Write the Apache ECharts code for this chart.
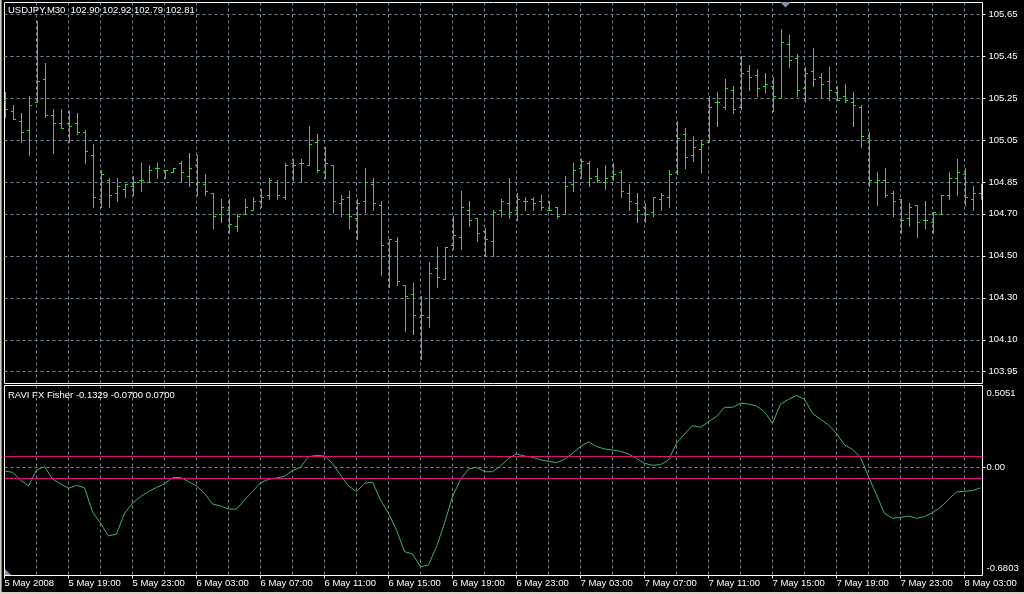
<!DOCTYPE html>
<html>
<head>
<meta charset="utf-8">
<script src="https://cdn.jsdelivr.net/npm/echarts@6/dist/echarts.min.js"></script>
<style>
html,body{margin:0;padding:0;background:#000;overflow:hidden;}
#c{width:1024px;height:594px;}
</style>
</head>
<body>
<div id="c"></div>
<script>
// ---------------- data ----------------
const symbolLabel = 'USDJPY,M30  102.90 102.92 102.79 102.81';
const indicatorLabel = 'RAVI FX Fisher -0.1329 -0.0700 0.0700';

// M30 bars from 5 May 2008 15:00 (index 0) to 8 May 2008 04:00 (index 122)
const open = [
  105.24,105.19,105.14,105.10,105.23,105.34,105.17,105.13,105.13,105.13,
  105.09,104.98,104.77,104.86,104.80,104.82,104.83,104.86,104.85,104.92,
  104.91,104.90,104.94,104.88,104.93,104.84,104.80,104.70,104.72,104.64,
  104.70,104.72,104.76,104.79,104.85,104.78,104.94,104.94,104.93,105.04,
  104.90,104.93,104.75,104.78,104.68,104.76,104.84,104.74,104.56,104.57,
  104.36,104.32,104.21,104.21,104.44,104.39,104.55,104.59,104.72,104.68,
  104.62,104.57,104.72,104.75,104.72,104.76,104.77,104.76,104.72,104.73,
  104.70,104.84,104.92,104.94,104.88,104.85,104.88,104.90,104.80,104.75,
  104.73,104.71,104.77,104.78,104.90,105.08,104.98,105.01,105.04,105.23,
  105.21,105.29,105.21,105.38,105.36,105.31,105.31,105.25,105.51,105.44,
  105.30,105.38,105.35,105.33,105.28,105.26,105.23,105.21,105.06,104.85,
  104.86,104.80,104.77,104.68,104.74,104.67,104.66,104.70,104.79,104.87,
  104.89,104.77,104.80
];
const high = [
  105.28,105.22,105.18,105.26,105.62,105.42,105.20,105.20,105.19,105.18,
  105.10,105.03,104.91,104.87,104.87,104.84,104.88,104.94,104.93,104.94,
  104.91,104.92,104.95,104.99,104.98,104.89,104.80,104.77,104.77,104.70,
  104.77,104.78,104.82,104.87,104.86,104.94,104.96,104.96,105.12,105.08,
  105.02,104.93,104.79,104.81,104.77,104.92,104.87,104.76,104.58,104.59,
  104.36,104.37,104.31,104.47,104.54,104.54,104.69,104.81,104.76,104.68,
  104.63,104.72,104.77,104.87,104.80,104.78,104.78,104.79,104.76,104.73,
  104.88,104.94,104.96,104.95,104.92,104.93,104.94,104.91,104.84,104.80,
  104.75,104.78,104.80,104.91,105.14,105.11,105.07,105.05,105.26,105.28,
  105.34,105.31,105.45,105.41,105.39,105.37,105.35,105.58,105.55,105.46,
  105.40,105.49,105.37,105.40,105.31,105.32,105.28,105.22,105.09,104.90,
  104.92,104.81,104.77,104.75,104.74,104.76,104.71,104.79,104.90,104.96,
  104.92,104.83,104.84
];
const low = [
  105.16,105.15,105.04,104.98,105.23,105.16,104.99,105.11,105.04,105.08,
  104.94,104.73,104.73,104.73,104.76,104.78,104.79,104.81,104.85,104.87,
  104.87,104.90,104.85,104.83,104.79,104.79,104.63,104.66,104.61,104.62,
  104.70,104.72,104.73,104.77,104.77,104.77,104.86,104.85,104.93,104.90,
  104.87,104.71,104.69,104.63,104.58,104.71,104.72,104.41,104.35,104.36,
  104.14,104.13,104.01,104.16,104.35,104.39,104.53,104.53,104.64,104.57,
  104.50,104.50,104.69,104.68,104.67,104.72,104.72,104.72,104.72,104.68,
  104.70,104.81,104.87,104.83,104.85,104.82,104.86,104.78,104.72,104.66,
  104.66,104.69,104.72,104.73,104.89,104.92,104.95,104.90,105.04,105.12,
  105.20,105.18,105.20,105.29,105.26,105.28,105.19,105.25,105.40,105.26,
  105.23,105.31,105.25,105.24,105.24,105.23,105.12,105.02,104.83,104.74,
  104.78,104.69,104.61,104.64,104.59,104.63,104.61,104.70,104.77,104.79,
  104.74,104.72,104.77
];
const close = [
  105.20,105.15,105.09,105.22,105.33,105.17,105.13,105.11,105.12,105.09,
  105.00,104.78,104.89,104.79,104.83,104.84,104.85,104.86,104.91,104.92,
  104.91,104.92,104.90,104.92,104.85,104.81,104.69,104.73,104.65,104.69,
  104.73,104.76,104.78,104.86,104.79,104.93,104.93,104.94,105.03,104.91,
  104.94,104.76,104.77,104.69,104.75,104.85,104.75,104.55,104.58,104.38,
  104.31,104.22,104.22,104.42,104.40,104.54,104.60,104.73,104.67,104.61,
  104.58,104.71,104.76,104.71,104.77,104.76,104.75,104.73,104.72,104.69,
  104.83,104.91,104.95,104.87,104.86,104.87,104.89,104.81,104.76,104.72,
  104.70,104.78,104.79,104.89,105.06,104.97,105.02,105.03,105.21,105.23,
  105.30,105.20,105.37,105.35,105.30,105.32,105.26,105.52,105.43,105.29,
  105.37,105.34,105.32,105.29,105.24,105.24,105.22,105.07,104.86,104.86,
  104.79,104.76,104.67,104.73,104.66,104.67,104.71,104.79,104.87,104.90,
  104.78,104.80,104.79
];
const ravi = [
  -0.025,-0.034,-0.083,-0.121,-0.019,0.002,-0.076,-0.108,-0.136,-0.117,
  -0.132,-0.285,-0.359,-0.439,-0.427,-0.295,-0.231,-0.189,-0.157,-0.130,
  -0.108,-0.068,-0.066,-0.093,-0.121,-0.168,-0.236,-0.248,-0.268,-0.268,
  -0.210,-0.157,-0.100,-0.079,-0.070,-0.059,-0.023,-0.002,0.066,0.074,
  0.070,0.023,-0.051,-0.121,-0.157,-0.104,-0.096,-0.210,-0.295,-0.401,
  -0.539,-0.554,-0.635,-0.624,-0.507,-0.359,-0.189,-0.079,-0.013,-0.002,
  -0.030,-0.030,0.006,0.055,0.083,0.070,0.062,0.045,0.036,0.028,
  0.049,0.087,0.130,0.161,0.130,0.115,0.108,0.100,0.083,0.055,
  0.023,0.011,0.015,0.045,0.151,0.210,0.263,0.253,0.289,0.321,
  0.380,0.380,0.406,0.401,0.389,0.352,0.278,0.401,0.431,0.456,
  0.431,0.342,0.304,0.268,0.214,0.140,0.113,0.062,-0.062,-0.178,
  -0.295,-0.327,-0.321,-0.312,-0.327,-0.316,-0.291,-0.257,-0.206,-0.159,
  -0.155,-0.150,-0.133
];
const levels = [0.07, -0.07];
const priceTicks = [105.65, 105.45, 105.25, 105.05, 104.85, 104.70, 104.50, 104.30, 104.10, 103.95];
const indicatorTicks = [0.5051, 0, -0.6803];
const timeLabels = [
  '5 May 2008','5 May 19:00','5 May 23:00','6 May 03:00','6 May 07:00','6 May 11:00',
  '6 May 15:00','6 May 19:00','6 May 23:00','7 May 03:00','7 May 07:00','7 May 11:00',
  '7 May 15:00','7 May 19:00','7 May 23:00','8 May 03:00'
];
const barsPerLabel = 8;
const barsPerGrid = 4;

// ---------------- layout / style ----------------
const FONT = 'Liberation Sans';
const FS = 9.5;
const BAR_COLOR = '#1ee61e';
const GRID_COLOR = '#778899';
const LEVEL_COLOR = '#e0107f';
const LINE_COLOR = '#3cb371';
const DASH = [3, 3];
const plotLeft = 4.5, plotWidth = 978, barPx = 8;
const xMax = plotWidth / barPx;

const bars = open.map((o, i) => [i, o, high[i], low[i], close[i]]);
const raviData = ravi.map((v, i) => [i, v]);
const labelIdx = timeLabels.map((t, i) => i * barsPerLabel);

function renderBar(params, api) {
  const k = api.value(0);
  const pO = api.coord([k, api.value(1)]);
  const pH = api.coord([k, api.value(2)]);
  const pL = api.coord([k, api.value(3)]);
  const pC = api.coord([k, api.value(4)]);
  const x = Math.round(pO[0]) + 0.5;
  const yO = Math.round(pO[1]) + 0.5;
  const yC = Math.round(pC[1]) + 0.5;
  const st = { stroke: BAR_COLOR, lineWidth: 1 };
  return {
    type: 'group',
    children: [
      { type: 'line', shape: { x1: x, y1: Math.round(pH[1]), x2: x, y2: Math.round(pL[1]) + 1 }, style: st },
      { type: 'line', shape: { x1: x - 2.5, y1: yO, x2: x, y2: yO }, style: st },
      { type: 'line', shape: { x1: x, y1: yC, x2: x + 2.5, y2: yC }, style: st }
    ]
  };
}

const gridSplit = { show: true, showMinLine: false, showMaxLine: false, lineStyle: { color: GRID_COLOR, type: DASH, width: 1 } };
const txt = { color: '#fff', fontFamily: FONT, fontSize: FS };

const option = {
  backgroundColor: '#000',
  animation: false,
  textStyle: { fontFamily: FONT, fontSize: FS, color: '#fff' },
  title: [
    { text: symbolLabel, left: 8, top: 5, padding: 0, textStyle: Object.assign({ fontWeight: 'normal' }, txt) },
    { text: indicatorLabel, left: 8, top: 390, padding: 0, textStyle: Object.assign({ fontWeight: 'normal' }, txt) }
  ],
  grid: [
    { left: plotLeft, top: 2.5, width: plotWidth, height: 381, show: true, borderColor: '#fff', borderWidth: 1, backgroundColor: 'transparent' },
    { left: plotLeft, top: 385.5, width: plotWidth, height: 190, show: true, borderColor: '#fff', borderWidth: 1, backgroundColor: 'transparent' }
  ],
  xAxis: [
    { type: 'value', gridIndex: 0, min: 0, max: xMax, interval: barsPerGrid, position: 'bottom',
      axisLine: { show: false, onZero: false }, axisTick: { show: false }, axisLabel: { show: false }, splitLine: gridSplit },
    { type: 'value', gridIndex: 1, min: 0, max: xMax, interval: barsPerGrid, position: 'bottom',
      axisLine: { show: false, onZero: false }, axisTick: { show: false }, axisLabel: { show: false }, splitLine: gridSplit },
    { type: 'value', gridIndex: 1, min: 0, max: xMax, position: 'bottom', offset: 0,
      axisLine: { show: false, onZero: false },
      axisTick: { show: true, customValues: labelIdx, length: 3, lineStyle: { color: '#fff', width: 1 } },
      axisLabel: Object.assign({ show: true, customValues: labelIdx, align: 'left', margin: 3,
        formatter: v => timeLabels[Math.round(v / barsPerLabel)] || '' }, txt),
      splitLine: { show: false } }
  ],
  yAxis: [
    { type: 'value', gridIndex: 0, position: 'right', min: 103.892, max: 105.706,
      axisLine: { show: false, onZero: false },
      axisTick: { show: true, customValues: priceTicks, length: 3, lineStyle: { color: '#fff', width: 1 } },
      axisLabel: Object.assign({ customValues: priceTicks, margin: 6, formatter: v => v.toFixed(2) }, txt),
      splitLine: { show: true, lineStyle: { color: GRID_COLOR, type: DASH, width: 1 } } },
    { type: 'value', gridIndex: 1, position: 'right', min: -0.6911, max: 0.5191,
      axisLine: { show: false, onZero: false },
      axisTick: { show: true, customValues: [0], length: 3, lineStyle: { color: '#fff', width: 1 } },
      axisLabel: Object.assign({ customValues: indicatorTicks, margin: 4,
        formatter: v => {
          const t = Math.abs(v) < 1e-9 ? '0.00' : v.toFixed(4);
          if (v > 0.25) return '{top|' + t + '}';
          if (v < -0.25) return '{bot|' + t + '}';
          return t;
        },
        rich: {
          top: Object.assign({ padding: [11, 0, 0, 0] }, txt),
          bot: Object.assign({ padding: [0, 0, 10, 0] }, txt)
        } }, txt),
      splitLine: { show: true, lineStyle: { color: GRID_COLOR, type: DASH, width: 1 } } }
  ],
  series: [
    { type: 'custom', name: 'USDJPY', xAxisIndex: 0, yAxisIndex: 0, data: bars,
      encode: { x: 0, y: [1, 2, 3, 4] }, renderItem: renderBar, clip: true, silent: true },
    { type: 'line', name: 'RAVI FX Fisher', xAxisIndex: 1, yAxisIndex: 1, data: raviData,
      showSymbol: false, symbol: 'none', silent: true,
      lineStyle: { color: LINE_COLOR, width: 1 },
      markLine: { silent: true, symbol: 'none', label: { show: false },
        lineStyle: { color: LEVEL_COLOR, type: 'solid', width: 1 },
        data: levels.map(v => ({ yAxis: v })) } }
  ],
  graphic: [
    { type: 'rect', left: 0, top: 0, shape: { width: 1, height: 594 }, style: { fill: '#d4d0c8' }, silent: true },
    { type: 'rect', left: 1, top: 0, shape: { width: 1, height: 594 }, style: { fill: '#808080' }, silent: true },
    { type: 'rect', left: 0, bottom: 0, shape: { width: 1024, height: 2 }, style: { fill: '#d4d0c8' }, silent: true },
    { type: 'polygon', shape: { points: [[780, 2], [791, 2], [785.5, 7.5]] }, style: { fill: '#8796a6' }, silent: true },
    { type: 'polygon', shape: { points: [[5, 569], [5, 575], [11, 575]] }, style: { fill: '#8796a6' }, silent: true }
  ]
};

const chart = echarts.init(document.getElementById('c'), null, { renderer: 'canvas', width: 1024, height: 594 });
chart.setOption(option);
</script>
</body>
</html>
